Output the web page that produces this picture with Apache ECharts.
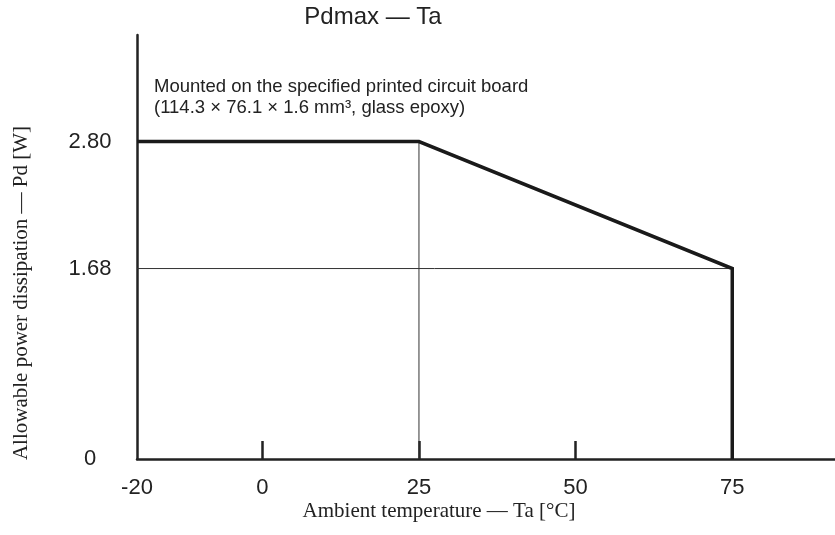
<!DOCTYPE html>
<html>
<head>
<meta charset="utf-8">
<script src="https://cdn.jsdelivr.net/npm/echarts@6/dist/echarts.min.js"></script>
<style>
html,body{margin:0;padding:0;background:#fff;}
#chart{width:835px;height:535px;}
</style>
</head>
<body>
<div id="chart"></div>
<script>
// Derating curve (Ta in °C, Pd in W)
const curveTa = [-20, 25, 75, 75];
const curvePd = [2.80, 2.80, 1.68, 0];
// Reference guide lines
const guideHTa = [-20, 75];
const guideHPd = [1.68, 1.68];
const guideVTa = [25, 25];
const guideVPd = [2.80, 0];
// Axis tick labels
const xTickLabels = [-20, 0, 25, 50, 75];
const xTickMarks = [0, 25, 50];
const yTickLabels = [0, 1.68, 2.80];

const titleText = 'Pdmax \u2014 Ta';
const xName = 'Ambient temperature \u2014 Ta [\u00B0C]';
const yName = 'Allowable power dissipation \u2014 Pd [W]';
const noteLines = ['Mounted on the specified printed circuit board',
                   '(114.3 \u00D7 76.1 \u00D7 1.6 mm\u00B3, glass epoxy)'];

const zip = (a, b) => a.map((v, i) => [v, b[i]]);

const chart = echarts.init(document.getElementById('chart'), null, {renderer: 'canvas'});
const sans = 'Liberation Sans, Arial, sans-serif';
const serif = 'Liberation Serif, Times New Roman, serif';

chart.setOption({
  animation: false,
  backgroundColor: '#fff',
  title: {
    text: titleText,
    left: 368, top: 0, textAlign: 'center',
    textStyle: {fontFamily: sans, fontSize: 24, fontWeight: 'normal', color: '#222'}
  },
  grid: {left: 137, right: 0, top: 35, bottom: 76, containLabel: false},
  xAxis: {
    type: 'value', min: -20, max: 91.4,
    splitLine: {show: false},
    axisLine: {show: true, onZero: false, lineStyle: {color: '#222', width: 2.5}},
    axisTick: {show: true, inside: true, length: 18, customValues: xTickMarks,
               lineStyle: {color: '#222', width: 2.5}},
    axisLabel: {show: true, customValues: xTickLabels, margin: 18,
                fontFamily: sans, fontSize: 22, color: '#222',
                formatter: v => String(v)}
  },
  yAxis: {
    type: 'value', min: 0, max: 3.74,
    splitLine: {show: false},
    axisLine: {show: true, onZero: false, lineStyle: {color: '#222', width: 2.5}},
    axisTick: {show: false},
    axisLabel: {show: true, customValues: yTickLabels, margin: 47, align: 'center',
                fontFamily: sans, fontSize: 22, color: '#222',
                formatter: v => v === 0 ? '0' : v.toFixed(2)}
  },
  graphic: [
    {type: 'text', x: 154, y: 76, style: {
      text: noteLines.join('\n'), fontFamily: sans, fontSize: 18.5, lineHeight: 21,
      fill: '#222', textAlign: 'left', textVerticalAlign: 'top'}},
    {type: 'text', x: 439, y: 511, style: {
      text: xName, fontFamily: serif, fontSize: 21, fill: '#222',
      textAlign: 'center', textVerticalAlign: 'middle'}},
    {type: 'text', x: 21, y: 293, rotation: Math.PI / 2, style: {
      text: yName, fontFamily: serif, fontSize: 21, fill: '#222',
      textAlign: 'center', textVerticalAlign: 'middle'}}
  ],
  series: [
    {type: 'line', data: zip(guideHTa, guideHPd), symbol: 'none', silent: true, z: 2,
     lineStyle: {color: '#333', width: 1}},
    {type: 'line', data: zip(guideVTa, guideVPd), symbol: 'none', silent: true, z: 2,
     lineStyle: {color: '#333', width: 1}},
    {type: 'line', data: zip(curveTa, curvePd), symbol: 'none', silent: true, z: 3,
     lineStyle: {color: '#1a1a1a', width: 3.5, join: 'miter'}}
  ]
});
</script>
</body>
</html>
